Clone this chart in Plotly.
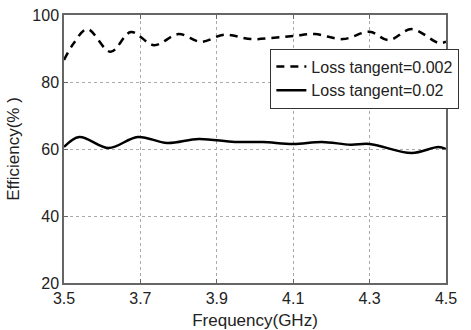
import plotly.graph_objects as go

freq_a = [3.50, 3.525, 3.561, 3.622, 3.675, 3.736, 3.80, 3.858, 3.92, 3.99, 4.05, 4.10, 4.157, 4.23, 4.30, 4.35, 4.41, 4.48, 4.50]
eff_a = [86.6, 91.5, 95.8, 89.0, 94.9, 91.0, 94.3, 92.0, 94.1, 92.8, 93.2, 93.7, 94.3, 92.8, 95.0, 92.5, 95.8, 91.7, 92.0]

freq_b = [3.50, 3.54, 3.617, 3.693, 3.77, 3.853, 3.947, 4.02, 4.10, 4.175, 4.25, 4.30, 4.41, 4.48, 4.50]
eff_b = [60.6, 63.6, 60.3, 63.6, 61.8, 63.0, 62.1, 62.1, 61.5, 62.1, 61.3, 61.5, 58.8, 60.6, 60.0]

x_ticks = [3.5, 3.7, 3.9, 4.1, 4.3, 4.5]
y_ticks = [20, 40, 60, 80, 100]

FONT = "Liberation Sans, Arial, sans-serif"

fig = go.Figure()
fig.add_trace(go.Scatter(x=freq_a, y=eff_a, mode="lines", name="Loss tangent=0.002",
                         line=dict(color="black", width=2.5, dash="8px,6px", shape="spline", smoothing=1.0)))
fig.add_trace(go.Scatter(x=freq_b, y=eff_b, mode="lines", name="Loss tangent=0.02",
                         line=dict(color="black", width=2.5, shape="spline", smoothing=1.0)))

axis_common = dict(showline=True, linecolor="#666", linewidth=1.5, mirror="ticks",
                   ticks="inside", ticklen=4, tickcolor="#666", automargin=False,
                   showgrid=True, gridcolor="#aaa", griddash="dot", gridwidth=1,
                   zeroline=False, tickfont=dict(family=FONT, size=16, color="#222"))

fig.update_xaxes(range=[3.5, 4.5], tickvals=x_ticks, ticktext=[f"{v:.1f}" for v in x_ticks],
                 title=dict(text="Frequency(GHz)", font=dict(family=FONT, size=17, color="#222"), standoff=10),
                 **axis_common)
fig.update_yaxes(range=[20, 100], tickvals=y_ticks,
                 title=dict(text="Efficiency(% )", font=dict(family=FONT, size=17, color="#222"), standoff=8),
                 **axis_common)

fig.update_layout(
    width=471, height=330,
    margin=dict(l=64, r=13, t=15, b=47),
    plot_bgcolor="white", paper_bgcolor="white",
    font=dict(family=FONT, color="#222"),
    legend=dict(x=1.035, y=0.875, xanchor="right", yanchor="top",
                bgcolor="white", bordercolor="#333", borderwidth=1,
                font=dict(family=FONT, size=16, color="#222"),
                tracegroupgap=0, itemwidth=30),
    showlegend=True,
)

fig.write_html("out.html")
